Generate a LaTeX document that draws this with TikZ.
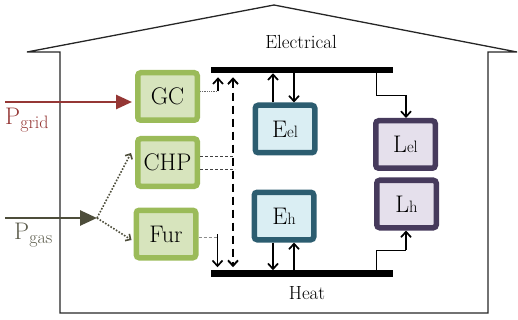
\documentclass[tikz,border=0pt]{standalone}
\usetikzlibrary{arrows.meta}
\definecolor{grnB}{HTML}{9BBB59}
\definecolor{grnF}{HTML}{D7E4BD}
\definecolor{tealB}{HTML}{2C5D70}
\definecolor{tealF}{HTML}{DAEEF3}
\definecolor{purB}{HTML}{463A5C}
\definecolor{purF}{HTML}{E5E0EC}
\definecolor{gridc}{HTML}{953735}
\definecolor{gasc}{HTML}{4D4D3A}
\definecolor{gaslab}{HTML}{5B5B4B}
\newcommand{\subtx}[1]{{\fontsize{16.5}{18}\selectfont #1}}
\newcommand{\subpw}[1]{\raisebox{-4pt}{\fontsize{18}{19}\selectfont #1}}
\begin{document}
\begin{tikzpicture}[x=1pt,y=-1pt,
  box/.style={line width=5.5pt, rounded corners=3pt, minimum width=59.5pt, minimum height=47.5pt,
    inner sep=0pt, outer sep=2.75pt, font=\fontsize{24}{26}\selectfont},
  gbox/.style={box, draw=grnB, fill=grnF},
  ebox/.style={box, draw=tealB, fill=tealF},
  lbox/.style={box, draw=purB, fill=purF},
  bus/.style={fill=black, minimum width=182pt, minimum height=6.5pt, inner sep=0pt, outer sep=0pt},
  flow/.style={line width=1.7pt, -{Straight Barb[length=5.5pt,width=10pt]}},
  thinlink/.style={line width=0.7pt, dash pattern=on 3pt off 2pt},
  house/.style={line width=1.3pt, draw=black!85},
  lab/.style={inner sep=0pt, font=\fontsize{19}{21}\selectfont}
]
\useasboundingbox (0,0) rectangle (518,320);

% house
\draw[house] (60,313) -- (60,52) -- (27,52) -- (274,5) -- (517,52) -- (488,52) -- (488,313) -- cycle;

% buses
\node[bus] (elbus) at (302,70) {};
\node[bus] (hbus) at (302,273.5) {};
\node[lab] (eltxt) at (301,42) {Electrical};
\node[lab] (htxt) at (307,293) {Heat};

% boxes
\node[gbox] (GC) at (167.5,96.5) {GC};
\node[gbox] (CHP) at (167.5,162.5) {CHP};
\node[gbox] (Fur) at (166,234) {Fur};
\node[ebox] (Eel) at (285,129) {E\subtx{el}};
\node[ebox] (Eh) at (284,216) {E\subtx{h}};
\node[lbox] (Lel) at (405.5,144.5) {L\subtx{el}};
\node[lbox] (Lh) at (406.5,204) {L\subtx{h}};

% grid input
\coordinate (gin) at (5,102);
\draw[gridc, line width=2.6pt, -{Triangle[length=16pt,width=14pt]}, shorten >=3pt] (gin) -- (gin -| GC.west);
\node[anchor=base west, inner sep=0pt, text=gridc, font=\fontsize{24}{26}\selectfont] (pgrid) at (5,125) {P\subpw{grid}};

% gas input
\coordinate (gasin) at (5,218);
\coordinate (gs) at (97,218);
\draw[gasc, line width=2.6pt, -{Triangle[length=17pt,width=15pt]}] (gasin) -- (gs);
\node[anchor=base west, inner sep=0pt, text=gaslab, font=\fontsize{24}{26}\selectfont] (pgas) at (14,239) {P\subpw{gas}};
\draw[gasc, line width=1.6pt, dash pattern=on 1.6pt off 1.6pt, -{Straight Barb[length=4pt,width=8pt]}]
  (gs) -- ([xshift=-4pt,yshift=9.5pt]CHP.west);
\draw[gasc, line width=1.6pt, dash pattern=on 1.6pt off 1.6pt, -{Straight Barb[length=4pt,width=8pt]}]
  (gs) -- ([xshift=-2pt,yshift=-6pt]Fur.west);

% GC to electrical bus
\draw[densely dotted, black!60, line width=0.8pt] ([yshift=5.5pt]GC.east) -- ++(18,0) coordinate (gcj);
\draw[flow] (gcj) -- ([yshift=-4pt]gcj |- elbus.south);

% CHP to both buses
\coordinate (dx) at (233,0);
\draw[line width=1.9pt, dash pattern=on 8pt off 5pt,
  {Straight Barb[length=5.5pt,width=10pt]}-{Straight Barb[length=5.5pt,width=10pt]}]
  ([yshift=-4pt]elbus.south -| dx) -- ([yshift=3pt]hbus.north -| dx);
\draw[thinlink, black!75] ([yshift=6.5pt]CHP.east) -- ([yshift=6.5pt]CHP.east -| dx);
\draw[thinlink, black!75] ([yshift=-6.5pt]CHP.east) -- ([xshift=2pt,yshift=-6.5pt]CHP.east -| dx);

% Fur to heat bus
\draw[thinlink, black!45] ([yshift=-3pt]Fur.east) -- ++(19,0) coordinate (fj);
\draw[flow] ([yshift=3pt]fj) -- ([yshift=3pt]fj |- hbus.north);

% storage arrows
\draw[flow] ([xshift=-12pt]Eel.north) -- ([xshift=-12pt]Eel.north |- elbus.south);
\draw[flow] ([xshift=9pt]Eel.north |- elbus.south) -- ([xshift=9pt]Eel.north);
\draw[flow] ([xshift=-11pt]Eh.south) -- ([xshift=-11pt]Eh.south |- hbus.north);
\draw[flow] ([xshift=10pt]Eh.south |- hbus.north) -- ([xshift=10pt]Eh.south);

% loads
\coordinate (lj1) at (406,95);
\coordinate (lj2) at (406,250);
\draw[line width=0.9pt] ([xshift=74pt]elbus.south) |- (lj1);
\draw[flow] (lj1) -- (lj1 |- Lel.north);
\draw[line width=0.9pt] ([xshift=74pt]hbus.north) |- (lj2);
\draw[flow] (lj2) -- (lj2 |- Lh.south);
\end{tikzpicture}
\end{document}
